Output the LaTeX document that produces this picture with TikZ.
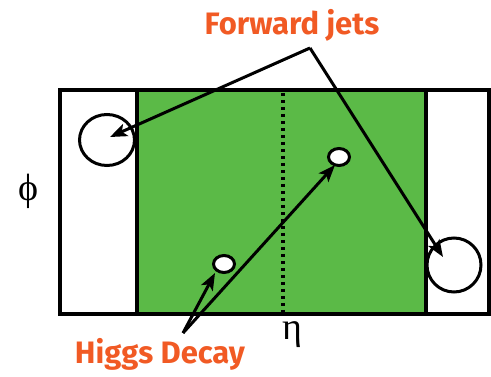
\documentclass[tikz,border=0pt]{standalone}
\usepackage{fontspec}
\setmainfont{Liberation Serif}
\newfontfamily\labfont{Fira Sans}
\newfontfamily\symfont{Liberation Serif}
\usetikzlibrary{arrows.meta,shapes.geometric}
\definecolor{bggreen}{HTML}{5BBA47}
\definecolor{laborange}{HTML}{F15A24}
\tikzset{
  frame/.style={line width=4.2pt},
  arr/.style={line width=3pt,-{Stealth[length=17pt,width=13pt,inset=4pt]}},
  lab/.style={text=laborange,anchor=base,font=\labfont\bfseries\fontsize{31}{34}\selectfont},
  sym/.style={font=\symfont\fontsize{38}{40}\selectfont},
  jet/.style={draw,line width=3pt},
  dec/.style={draw,fill=white,line width=3pt}
}
\begin{document}
\begin{tikzpicture}[x=1pt,y=-1pt]
\useasboundingbox (0,0) rectangle (491,377);
\fill[bggreen] (137,90) rectangle (426,314);
\draw[line width=3.2pt,dash pattern=on 3.5pt off 3.5pt] (283,93) -- (283,312);
\draw[frame] (137,90) -- (137,314) (426,90) -- (426,314);
\draw[frame] (60,90) rectangle (489,314);
\node[jet,ellipse,minimum width=55pt,minimum height=51pt,inner sep=0pt] (jl) at (107,140) {};
\node[jet,circle,minimum size=54pt,inner sep=0pt] (jr) at (454,265) {};
\node[dec,ellipse,minimum width=21pt,minimum height=17pt,inner sep=0pt] (d1) at (224,264) {};
\node[dec,ellipse,minimum width=21pt,minimum height=17pt,inner sep=0pt] (d2) at (339,157) {};
\node[lab] (fj) at (292,35) {Forward jets};
\node[lab] (hd) at (160,364) {Higgs Decay};
\node[sym] (phi) at (29,191) {ϕ};
\node[sym] (eta) at (292,335) {η};
\coordinate (fa) at (310,48);
\coordinate (ha) at (183,333);
\draw[arr] (fa) -- (110,137);
\draw[arr] (fa) -- (443,257);
\draw[arr] (ha) -- (215,273);
\draw[arr] (ha) -- (335,165);
\end{tikzpicture}
\end{document}
